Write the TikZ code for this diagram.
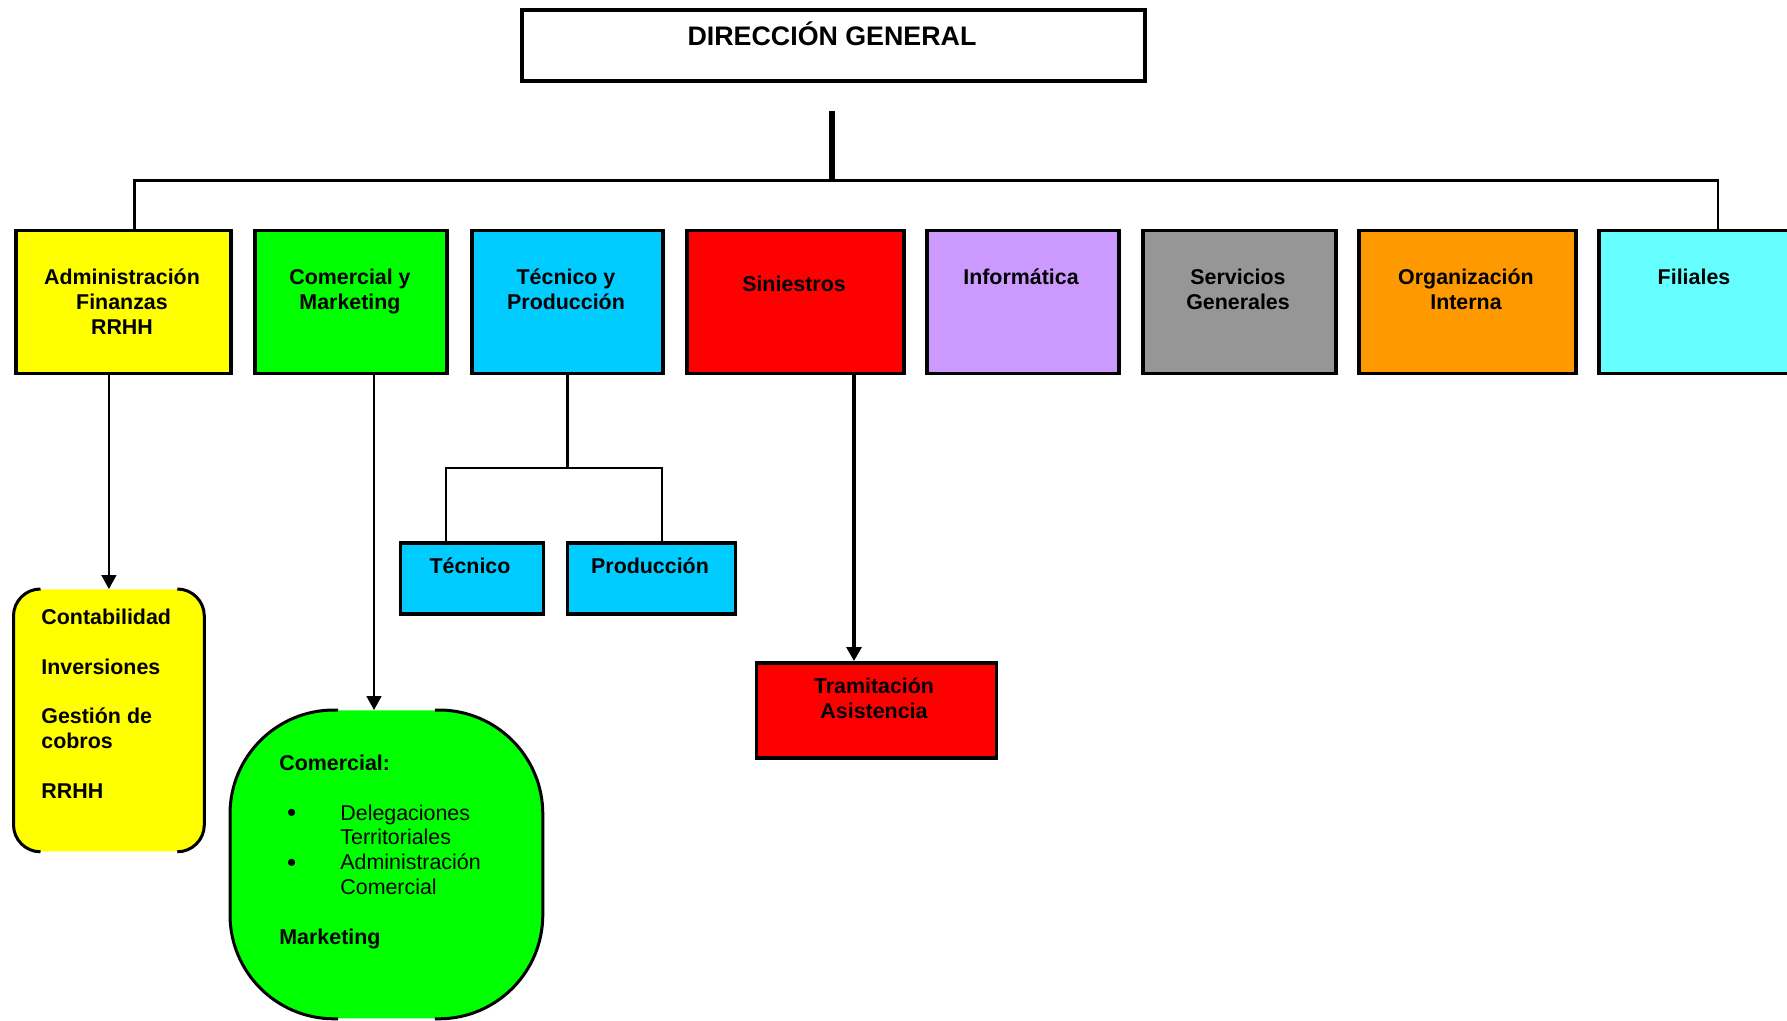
\documentclass[tikz,border=0pt]{standalone}
\usepackage{fontspec}
\setmainfont{Liberation Sans}
\usetikzlibrary{arrows.meta,calc}
\definecolor{cYellow}{HTML}{FFFF00}
\definecolor{cGreen}{HTML}{00FF00}
\definecolor{cBlue}{HTML}{00CCFF}
\definecolor{cRed}{HTML}{FF0000}
\definecolor{cLilac}{HTML}{CC99FF}
\definecolor{cGrey}{HTML}{969696}
\definecolor{cOrange}{HTML}{FF9900}
\definecolor{cCyan}{HTML}{66FFFF}
\newcommand{\bigdot}{\raisebox{-0.7pt}{\fontsize{13}{12}\selectfont\textbullet}}
\begin{document}
\begin{tikzpicture}[x=0.5pt,y=-0.5pt,
  box/.style={draw=black, line width=1.75pt, anchor=north west, inner sep=0pt},
  wh/.style 2 args={minimum width=#1*0.5pt, minimum height=#2*0.5pt},
  soft/.style={draw=none, anchor=north west, inner sep=0pt},
  % multi-line labels: the base anchor sits on the last line
  lbl/.style={font=\fontsize{10.7}{12.5}\selectfont\bfseries, align=center, anchor=base, inner sep=0pt},
  lst/.style={font=\fontsize{10.7}{12.4}\selectfont, align=left, anchor=base west, inner sep=0pt},
  bus/.style={line width=1.35pt},
  stubline/.style={line width=2.65pt},
  side/.style={line width=1.5pt},
  thinarrow/.style={line width=0.85pt, -{Triangle[width=7.5pt,length=7pt]}},
  thickarrow/.style={line width=1.6pt, -{Triangle[width=7.5pt,length=7pt]}}
]
\useasboundingbox (0,0) rectangle (1787,1021);

% top level
\node[box, fill=white, wh={623}{71}] (dg) at (520,8.5) {};
\node[lbl, font=\fontsize{13.4}{15}\selectfont\bfseries] (dgt) at (832,46) {DIRECCIÓN GENERAL};

% departments
\node[box, fill=cYellow, wh={215}{143}] (adm) at (14,229) {};
\node[box, fill=cGreen,  wh={192}{143}] (com) at (253,229) {};
\node[box, fill=cBlue,   wh={191}{143}] (typ) at (470,229) {};
\node[box, fill=cRed,    wh={217}{143}] (sin) at (685,229) {};
\node[box, fill=cLilac,  wh={192}{143}] (inf) at (925,229) {};
\node[box, fill=cGrey,   wh={193}{143}] (ser) at (1141,229) {};
\node[box, fill=cOrange, wh={217}{143}] (org) at (1357,229) {};
\node[box, fill=cCyan,   wh={193}{143}] (fil) at (1597,229) {};

\node[lbl] (admt) at (122,335) {Administración\\Finanzas\\RRHH};
\node[lbl] (comt) at (350,310) {Comercial y\\Marketing};
\node[lbl] (typt) at (566,310) {Técnico y\\Producción};
\node[lbl] (sint) at (794,292) {Siniestros};
\node[lbl] (inft) at (1021,285) {Informática};
\node[lbl] (sert) at (1238,310) {Servicios\\Generales};
\node[lbl] (orgt) at (1466,310) {Organización\\Interna};
\node[lbl] (filt) at (1694,285) {Filiales};

% sub-units
\node[box, fill=cBlue, wh={143}{71}] (tec) at (398.5,541) {};
\node[box, fill=cBlue, wh={168}{71}] (prod) at (565.5,541) {};
\node[lbl] (tect) at (470,573) {Técnico};
\node[lbl] (prodt) at (650,573) {Producción};

\node[box, fill=cRed, wh={240}{95}] (tram) at (754.5,661) {};
\node[lbl] (tramt) at (874,718) {Tramitación\\Asistencia};

% rounded panels: fill, then only the sides and corners are stroked
\node[soft, fill=cYellow, rounded corners=13.5pt, wh={190}{262}] (cont) at (13.5,589) {};
\draw[side, rounded corners=13.5pt]
  ($(cont.north west)+(27,0)$) -- (cont.north west) -- (cont.south west) -- ($(cont.south west)+(27,0)$);
\draw[side, rounded corners=13.5pt]
  ($(cont.north east)+(-27,0)$) -- (cont.north east) -- (cont.south east) -- ($(cont.south east)+(-27,0)$);
\node[lst, font=\fontsize{10.7}{12.4}\selectfont\bfseries] (contt) at (41,798)
  {Contabilidad\\[12.4pt]Inversiones\\[12.4pt]Gestión de\\cobros\\[12.4pt]RRHH};

\node[soft, fill=cGreen, rounded corners=52pt, wh={312}{308}] (comm) at (230,710) {};
\draw[side, rounded corners=52pt]
  ($(comm.north west)+(108,0)$) -- (comm.north west) -- (comm.south west) -- ($(comm.south west)+(108,0)$);
\draw[side, rounded corners=52pt]
  ($(comm.north east)+(-108,0)$) -- (comm.north east) -- (comm.south east) -- ($(comm.south east)+(-108,0)$);
\node[lst] (commt) at (279,944)
  {\textbf{Comercial:}\\[12.4pt]
   \hspace*{3.8pt}\makebox[26.7pt][l]{\bigdot}Delegaciones\\
   \hspace*{30.5pt}Territoriales\\
   \hspace*{3.8pt}\makebox[26.7pt][l]{\bigdot}Administración\\
   \hspace*{30.5pt}Comercial\\[12.4pt]
   \textbf{Marketing}};

% connectors
\coordinate (stubtop) at (832,111);
\coordinate (busL) at (134.5,180.5);
\coordinate (busR) at (1718,180.5);
\draw[stubline] (stubtop) -- (stubtop |- busL);
\draw[bus] (adm.north -| busL) -- (busL) -- (busR) -- (busR |- fil.north);

\draw[thinarrow] (cont.north |- adm.south) -- (cont.north);

\coordinate (cmx) at (374,0);
\draw[thinarrow] (com.south -| cmx) -- (cmx |- comm.north);

\coordinate (tjL) at (446,468);
\coordinate (tjR) at (662,468);
\draw[bus] (typ.south) -- (typ.south |- tjL);
\draw[bus] (tec.north -| tjL) -- (tjL) -- (tjR) -- (tjR |- prod.north);

\coordinate (snx) at (854,0);
\draw[thickarrow] (sin.south -| snx) -- (snx |- tram.north);
\end{tikzpicture}
\end{document}
